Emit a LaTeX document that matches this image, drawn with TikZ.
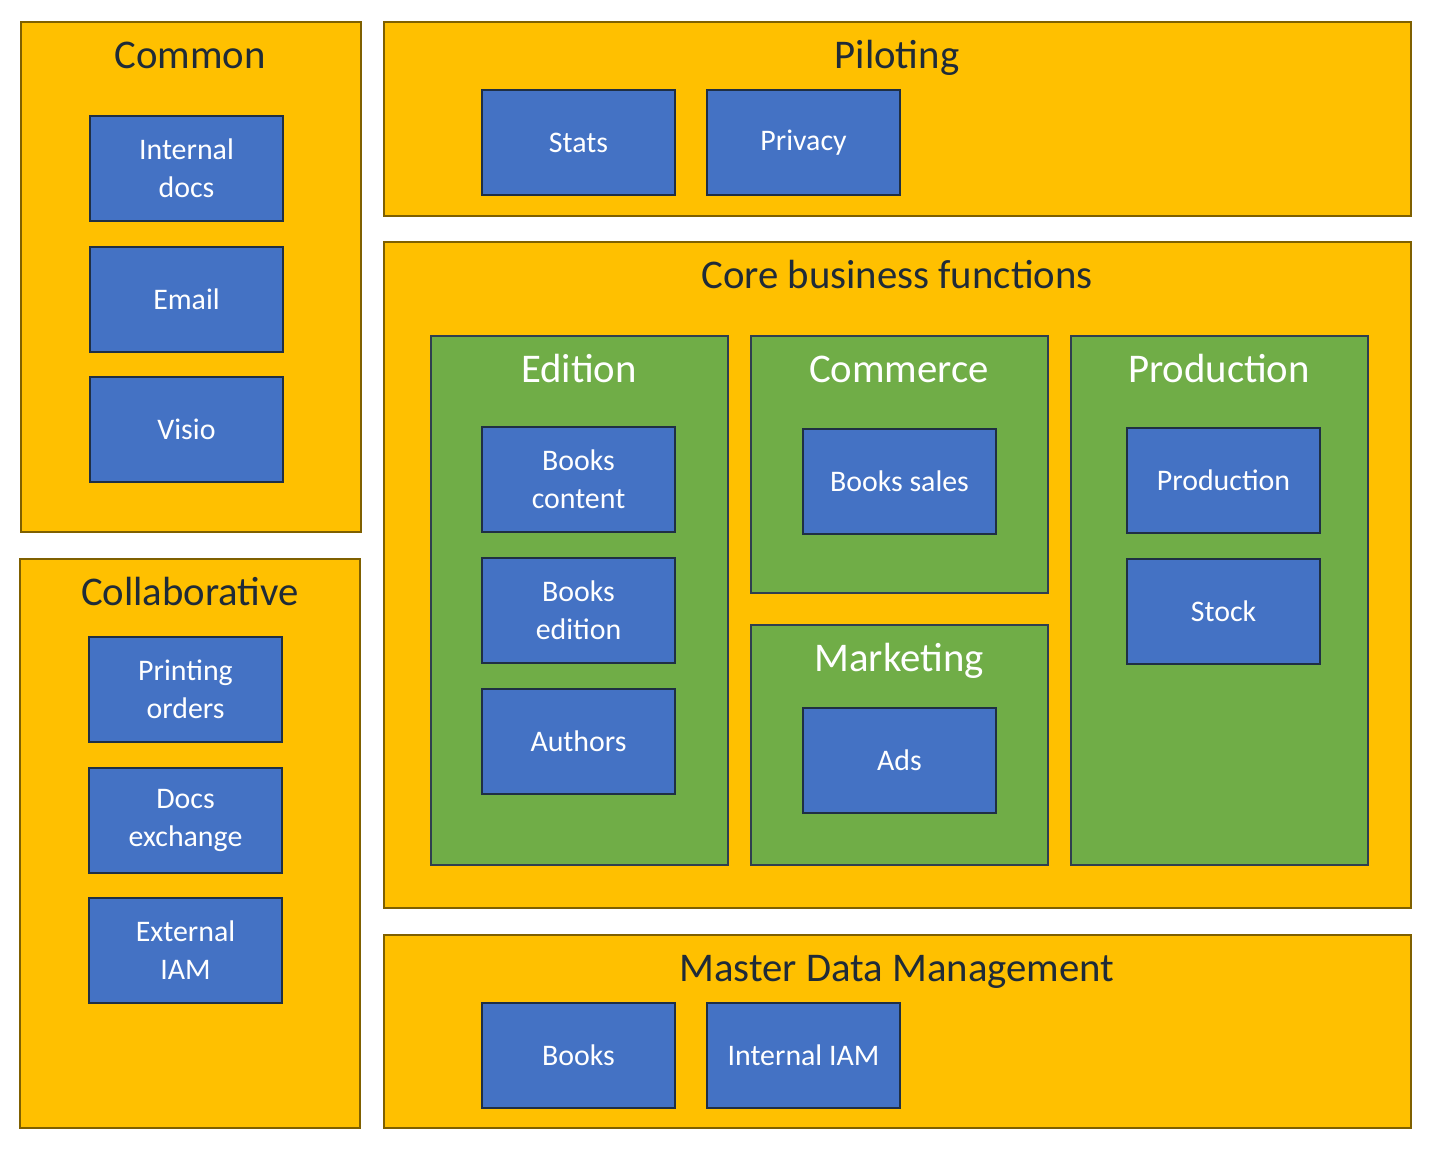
\documentclass[tikz,border=0pt]{standalone}
\usepackage{fontspec}
\setmainfont{Carlito}
\usepackage{tikz}
\usetikzlibrary{positioning}
\definecolor{areayellow}{HTML}{FFC000}
\definecolor{areaborder}{HTML}{7F6000}
\definecolor{groupgreen}{HTML}{70AD47}
\definecolor{groupborder}{HTML}{2F3F4F}
\definecolor{appblue}{HTML}{4472C4}
\definecolor{appborder}{HTML}{1F2F44}
\definecolor{titledark}{HTML}{1F2B38}

\begin{document}
\begin{tikzpicture}[
    x=0.02cm, y=-0.02cm,
    area/.style={rectangle, draw=areaborder, fill=areayellow, line width=1.1pt, minimum width=#1},
    area/.default=20.54cm,
    group/.style={rectangle, draw=groupborder, fill=groupgreen, line width=1.1pt, minimum width=5.94cm},
    app/.style={rectangle, draw=appborder, fill=appblue, line width=1.1pt, minimum width=3.86cm, minimum height=2.1cm, text=white, align=center, font=\fontsize{17}{21.5}\selectfont},
    areatitle/.style={anchor=base, text=titledark, inner sep=0pt, font=\fontsize{23.2}{28}\selectfont},
    grouptitle/.style={anchor=base, text=white, inner sep=0pt, font=\fontsize{23.2}{28}\selectfont}
]
    \useasboundingbox (0,0) rectangle (1432,1149);

    % Areas
    \node[area=6.8cm, minimum height=10.2cm] (common) at (191,277) {};
    \node[area=6.8cm, minimum height=11.38cm] (collab) at (190,843.5) {};
    \node[area, minimum height=3.88cm] (piloting) at (897.5,119) {};
    \node[area, minimum height=13.32cm] (core) at (897.5,575) {};
    \node[area, minimum height=3.86cm] (mdm) at (897.5,1031.5) {};

    % Groups
    \node[group, minimum height=10.58cm] (edition) at (579.5,600.5) {};
    \node[group, minimum height=5.14cm] (commerce) at (899.5,464.5) {};
    \node[group, minimum height=4.8cm] (marketing) at (899.5,745) {};
    \node[group, minimum height=10.58cm] (production) at (1219.5,600.5) {};

    % Titles
    \node[areatitle] (commontitle) at (190,69) {Common};
    \node[areatitle] (collabtitle) at (190,605) {Collaborative};
    \node[areatitle] (pilotingtitle) at (897,69) {Piloting};
    \node[areatitle] (coretitle) at (897,288) {Core business functions};
    \node[areatitle] (mdmtitle) at (897,981) {Master Data Management};
    \node[grouptitle] (editiontitle) at (579,382) {Edition};
    \node[grouptitle] (commercetitle) at (899,382) {Commerce};
    \node[grouptitle] (marketingtitle) at (899,671) {Marketing};
    \node[grouptitle] (productiontitle) at (1219,382) {Production};

    % Common
    \node[app] (intdocs) at (186.5,168.5) {Internal\\docs};
    \node[app] (email) at (186.5,299.5) {Email};
    \node[app] (visio) at (186.5,429.5) {Visio};

    % Collaborative
    \node[app] (printing) at (185.5,689.5) {Printing\\orders};
    \node[app] (docsexch) at (185.5,820.5) {Docs\\exchange};
    \node[app] (extiam) at (185.5,950.5) {External\\IAM};

    % Piloting
    \node[app] (stats) at (578.5,142.5) {Stats};
    \node[app] (privacy) at (803.5,142.5) {Privacy};

    % Core business functions
    \node[app] (bookscontent) at (578.5,479.5) {Books\\content};
    \node[app] (booksedition) at (578.5,610.5) {Books\\edition};
    \node[app] (authors) at (578.5,741.5) {Authors};
    \node[app] (bookssales) at (899.5,481.5) {Books sales};
    \node[app] (ads) at (899.5,760.5) {Ads};
    \node[app] (prod) at (1223.5,480.5) {Production};
    \node[app] (stock) at (1223.5,611.5) {Stock};

    % Master Data Management
    \node[app] (books) at (578.5,1055.5) {Books};
    \node[app] (intiam) at (803.5,1055.5) {Internal IAM};
\end{tikzpicture}
\end{document}
